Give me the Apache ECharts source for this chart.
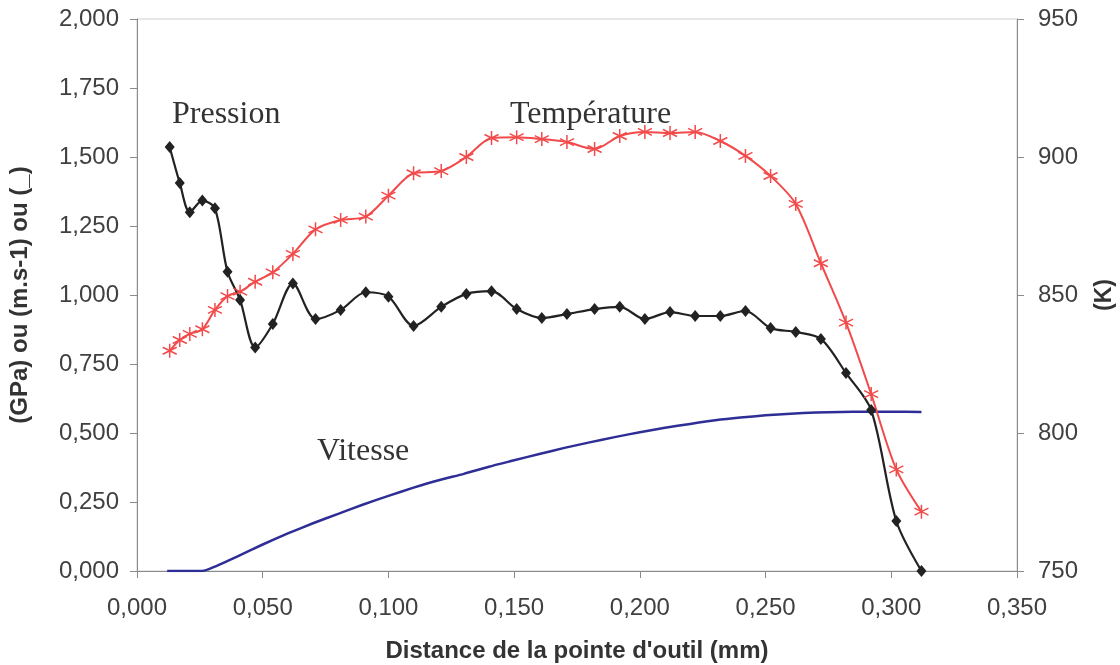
<!DOCTYPE html>
<html>
<head>
<meta charset="utf-8">
<script src="https://cdn.jsdelivr.net/npm/echarts@6/dist/echarts.min.js"></script>
<style>
html,body{margin:0;padding:0;background:#fff;}
#chart{width:1120px;height:665px;}
</style>
</head>
<body>
<div id="chart"></div>
<script>
// Distance (mm) shared by Pression and Température
const distance = [0.013,0.017,0.021,0.026,0.031,0.036,0.041,0.047,0.054,0.062,0.071,0.081,0.091,0.100,0.110,0.121,0.131,0.141,0.151,0.161,0.171,0.182,0.192,0.202,0.212,0.222,0.232,0.242,0.252,0.262,0.272,0.282,0.292,0.302,0.312];
// Pression (GPa)
const pression = [1.536,1.406,1.300,1.342,1.314,1.084,0.982,0.810,0.895,1.042,0.913,0.946,1.010,0.994,0.888,0.957,1.004,1.014,0.949,0.917,0.931,0.949,0.957,0.913,0.938,0.924,0.924,0.942,0.880,0.866,0.841,0.717,0.583,0.181,0.000];
// Température (K)
const temperature = [829.8,833.7,835.9,837.6,844.6,849.6,851.2,854.8,858.2,864.9,873.8,877.2,878.4,886.0,894.1,894.9,900.0,906.9,907.2,906.5,905.4,902.9,907.6,909.1,908.7,909.1,905.8,900.4,893.1,883.0,861.5,840.0,814.1,786.8,771.5];
// Vitesse (m/s)
const vitesseX = [0.012,0.026,0.030,0.040,0.050,0.060,0.070,0.080,0.090,0.100,0.110,0.120,0.130,0.140,0.150,0.160,0.170,0.180,0.190,0.200,0.210,0.220,0.230,0.240,0.250,0.260,0.270,0.280,0.290,0.300,0.312];
const vitesse  = [0.000,0.000,0.012,0.053,0.096,0.136,0.173,0.207,0.241,0.272,0.302,0.329,0.352,0.378,0.401,0.424,0.446,0.466,0.485,0.503,0.519,0.533,0.546,0.556,0.564,0.570,0.574,0.576,0.577,0.577,0.576];

const xTicks = {min:0, max:0.35, interval:0.05};
const yLeftTicks = {min:0, max:2, interval:0.25};
const yRightTicks = {min:750, max:950, interval:50};

const zip = (a,b) => a.map((v,i)=>[v,b[i]]);
const comma3 = v => v.toFixed(3).replace('.', ',');

const asterisk = 'path://M0,-10L0,10M-8.66,-5L8.66,5M-8.66,5L8.66,-5';

const chart = echarts.init(document.getElementById('chart'), null, {renderer:'canvas'});
const axisGray = '#8a8a8a';
const labelColor = '#404040';

chart.setOption({
  animation:false,
  backgroundColor:'#fff',
  grid:{left:137, right:103, top:19, bottom:94, containLabel:false, outerBoundsMode:'none',
        show:true, borderColor:'#cfcfcf', borderWidth:1},
  xAxis:{
    type:'value', min:xTicks.min, max:xTicks.max, interval:xTicks.interval,
    name:"Distance de la pointe d'outil (mm)", nameLocation:'middle', nameGap:68,
    nameTextStyle:{fontFamily:'Liberation Sans', fontWeight:'bold', fontSize:24, color:'#333'},
    axisLine:{show:true, onZero:false, lineStyle:{color:axisGray, width:1}},
    axisTick:{show:true, inside:false, length:7, lineStyle:{color:axisGray}},
    axisLabel:{formatter:comma3, fontFamily:'Liberation Sans', fontSize:24, color:labelColor, margin:25},
    splitLine:{show:false}
  },
  yAxis:[{
    type:'value', min:yLeftTicks.min, max:yLeftTicks.max, interval:yLeftTicks.interval,
    name:'(GPa) ou (m.s-1) ou (_)', nameLocation:'middle', nameGap:105, nameRotate:90,
    nameTextStyle:{fontFamily:'Liberation Sans', fontWeight:'bold', fontSize:24, color:'#333'},
    axisLine:{show:true, lineStyle:{color:axisGray, width:1}},
    axisTick:{show:true, length:7, lineStyle:{color:axisGray}},
    axisLabel:{formatter:comma3, fontFamily:'Liberation Sans', fontSize:24, color:labelColor, margin:18},
    splitLine:{show:false}
  },{
    type:'value', position:'right', min:yRightTicks.min, max:yRightTicks.max, interval:yRightTicks.interval,
    name:'(K)', nameLocation:'middle', nameGap:76, nameRotate:90,
    nameTextStyle:{fontFamily:'Liberation Sans', fontWeight:'bold', fontSize:23, color:'#333'},
    axisLine:{show:true, lineStyle:{color:axisGray, width:1}},
    axisTick:{show:true, length:7, lineStyle:{color:axisGray}},
    axisLabel:{fontFamily:'Liberation Sans', fontSize:24, color:labelColor, margin:21},
    splitLine:{show:false}
  }],
  series:[
    {
      name:'Vitesse', type:'line', yAxisIndex:0, data:zip(vitesseX, vitesse),
      showSymbol:false, symbol:'none', smooth:0.2,
      lineStyle:{color:'#2e2e96', width:2.5}
    },
    {
      name:'Température', type:'line', yAxisIndex:1, data:zip(distance, temperature),
      smooth:0.3, symbol:asterisk, symbolSize:14,
      itemStyle:{color:'rgba(0,0,0,0)', borderColor:'#f24a4a', borderWidth:1.5},
      lineStyle:{color:'#f24a4a', width:2}
    },
    {
      name:'Pression', type:'line', yAxisIndex:0, data:zip(distance, pression),
      smooth:0.3, symbol:'diamond', symbolSize:[10,12],
      itemStyle:{color:'#222'},
      lineStyle:{color:'#222', width:2.2}
    }
  ],
  graphic:[
    {type:'text', left:172, top:99, style:{text:'Pression', font:'32px "Liberation Serif"', fill:'#333'}},
    {type:'text', left:510, top:99, style:{text:'Température', font:'32px "Liberation Serif"', fill:'#333'}},
    {type:'text', left:317, top:436, style:{text:'Vitesse', font:'32px "Liberation Serif"', fill:'#333'}}
  ]
});
</script>
</body>
</html>
